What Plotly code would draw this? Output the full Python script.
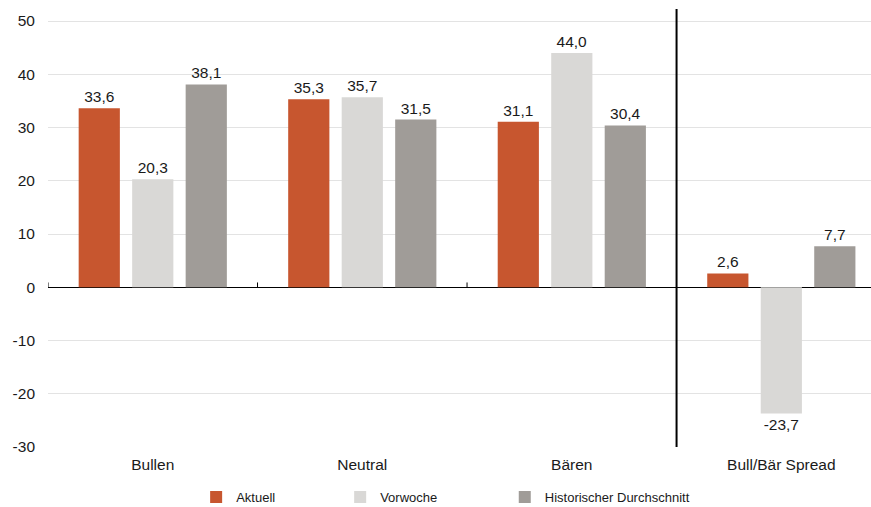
import plotly.graph_objects as go

categories = ["Bullen", "Neutral", "Bären", "Bull/Bär Spread"]
aktuell = [33.6, 35.3, 31.1, 2.6]
vorwoche = [20.3, 35.7, 44.0, -23.7]
historisch = [38.1, 31.5, 30.4, 7.7]
series_names = ["Aktuell", "Vorwoche", "Historischer Durchschnitt"]
colors = ["#C7562F", "#D9D8D6", "#A09C98"]
y_ticks = [-30, -20, -10, 0, 10, 20, 30, 40, 50]

FONT = "Liberation Sans, Arial, sans-serif"
TXT = "#1A1A1A"


def fmt(v):
    return f"{v:.1f}".replace(".", ",")


fig = go.Figure()
legends = ["legend", "legend2", "legend3"]
for name, vals, col, lg in zip(series_names, [aktuell, vorwoche, historisch], colors, legends):
    fig.add_trace(go.Bar(
        x=categories, y=vals, name=name, marker=dict(color=col, line=dict(width=0)),
        text=[fmt(v) for v in vals], textposition="outside", cliponaxis=False,
        textfont=dict(family=FONT, size=15.5, color=TXT), legend=lg,
    ))

ytop = 52.26
# tick marks on the zero line at category boundaries
for xb in [-0.5, 0.5, 1.5]:
    fig.add_shape(type="line", xref="x", yref="y", x0=xb, x1=xb, y0=0, y1=0.9,
                  line=dict(color="#000000", width=1))
# separator line before spread category
fig.add_shape(type="line", xref="x", yref="y", x0=2.5, x1=2.5, y0=-30, y1=ytop,
              line=dict(color="#000000", width=2))

leg_common = dict(orientation="h", yanchor="middle", y=-0.114, xanchor="left",
                  font=dict(family=FONT, size=13, color=TXT), bgcolor="rgba(0,0,0,0)",
                  itemwidth=30)

fig.update_layout(
    width=871, height=507,
    margin=dict(l=48, r=0, t=9, b=60, autoexpand=False),
    paper_bgcolor="white", plot_bgcolor="white",
    barmode="group", bargap=0.234, bargroupgap=0.23,
    font=dict(family=FONT, color=TXT),
    legend=dict(**leg_common, x=0.18),
    legend2=dict(**leg_common, x=0.355),
    legend3=dict(**leg_common, x=0.555),
    xaxis=dict(range=[-0.5, 3.428], showgrid=False, showline=False, ticks="",
               tickfont=dict(family=FONT, size=15.5, color=TXT), ticklabelstandoff=6,
               fixedrange=True),
    yaxis=dict(range=[-30, ytop], tickvals=y_ticks, ticktext=[str(v) for v in y_ticks],
               showgrid=True, gridcolor="#E3E3E3", gridwidth=1,
               zeroline=True, zerolinecolor="#000000", zerolinewidth=1,
               showline=False, ticks="", ticklabelstandoff=12,
               tickfont=dict(family=FONT, size=15.5, color=TXT)),
    showlegend=True,
)

fig.write_html("out.html")
